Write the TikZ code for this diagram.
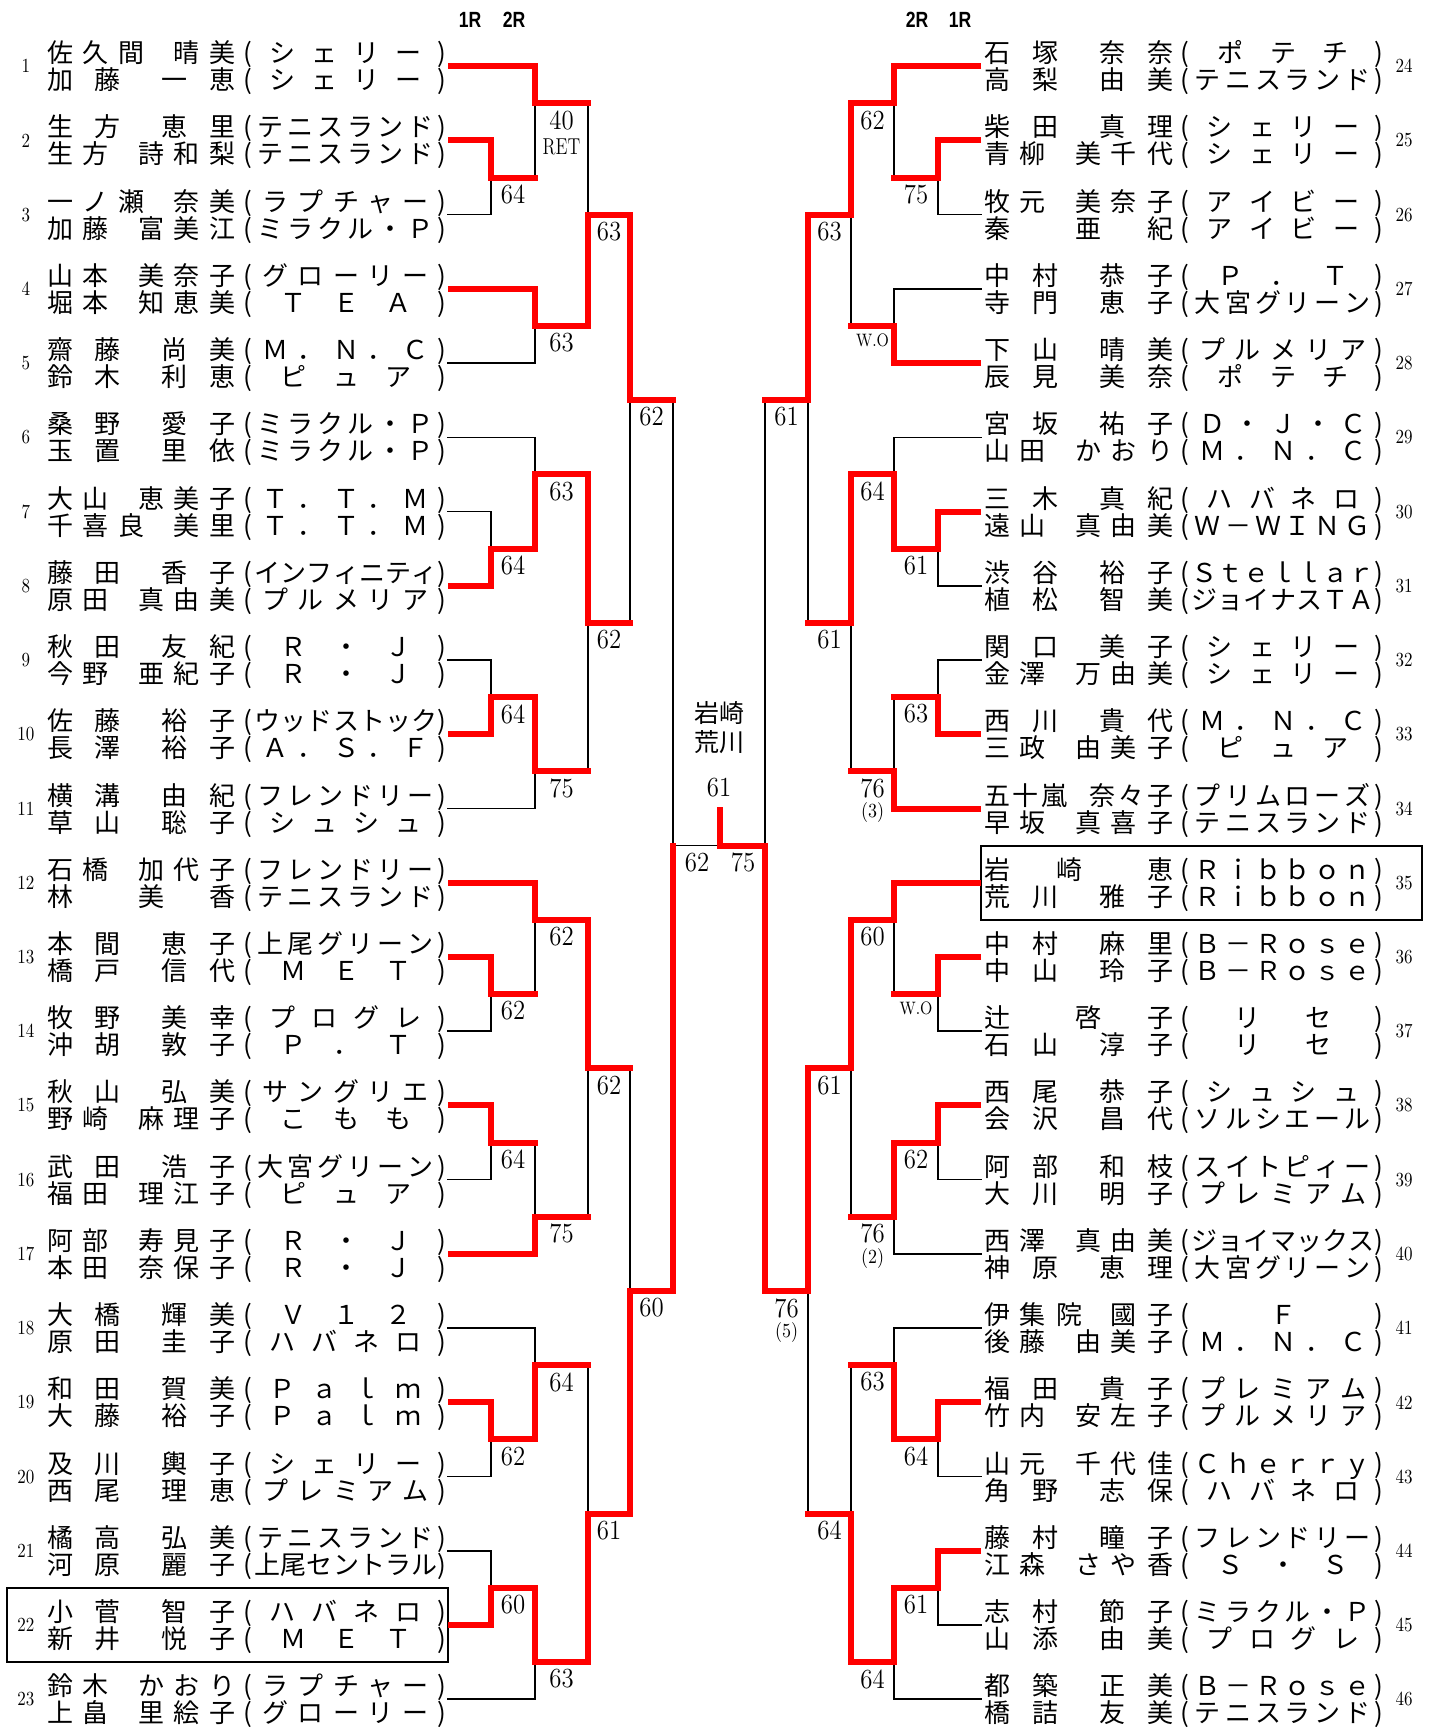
\documentclass[tikz,border=0pt]{standalone}
\usepackage{fontspec}
\usepackage{graphicx}
\newfontfamily\jp{Noto Sans CJK JP}
\newfontfamily\hd{Liberation Sans}
\pgfdeclarelayer{back}
\pgfdeclarelayer{bg}
\pgfsetlayers{back,bg,main}
\pgfmathdeclarefunction{rowy}{1}{\pgfmathparse{66.2+(#1-1)*74.23}}
\ExplSyntaxOn
\seq_new:N \l__sp_seq
\NewDocumentCommand\spreadx{m}{
  \seq_clear:N \l__sp_seq
  \tl_map_inline:nn {#1} { \seq_put_right:Nn \l__sp_seq {##1} }
  \seq_use:Nn \l__sp_seq { \hfil }
}
\ExplSyntaxOff
\newcommand\namebox[2]{\hbox to 94.5pt{\spreadx{#1}\hfil\hskip 9.5pt\spreadx{#2}}}
\newcommand\clubbox[1]{\hbox to 92pt{\hfil\spreadx{#1}\hfil}}
\newcommand\pline[3]{\jp\fontsize{13pt}{13pt}\selectfont\hbox{\namebox{#1}{#2}\hbox to 9pt{\hfil(\hskip 1pt}\clubbox{#3}\hbox to 4pt{\hss)\hss}}}
\newcommand\cnd[1]{\scalebox{0.9}[1]{#1}}
\newcommand\wo{\fontsize{9pt}{9pt}\selectfont\scalebox{0.95}[1]{W.O}}
\tikzset{
  win/.style={draw=red, line width=3pt, line cap=rect, line join=miter},
  wini/.style={draw=red, line width=3pt, line cap=butt},
  lose/.style={draw=black, line width=0.8pt, line cap=rect},
  ptext/.style={anchor=base west, inner sep=0pt, outer sep=0pt},
  pnum/.style={inner sep=0pt, font=\fontsize{10pt}{10pt}\selectfont},
  score/.style={anchor=north, inner sep=0pt, font=\fontsize{13.8pt}{14pt}\selectfont},
  sub/.style={anchor=north, inner sep=0pt, font=\fontsize{10pt}{10pt}\selectfont},
  frame/.style={draw=black, line width=1pt},
  rnd/.style={inner sep=0pt, font=\hd\bfseries\fontsize{11pt}{11pt}\selectfont},
  champ/.style={inner sep=0pt, font=\jp\fontsize{12.5pt}{12.5pt}\selectfont},
}
% pair texts
\newcommand\pairL[7]{%
  \node[pnum] (nL#1) at (26,{rowy(#1)}) {\scalebox{0.85}[1]{#1}};
  \node[ptext] (aL#1) at (47,{rowy(#1)-3.5}) {\pline{#2}{#3}{#4}};
  \node[ptext] (bL#1) at (47,{rowy(#1)+23.5}) {\pline{#5}{#6}{#7}};
}
\newcommand\pairR[8]{%
  \node[pnum] (nR#1) at (1404,{rowy(#1)}) {\scalebox{0.85}[1]{#2}};
  \node[ptext] (aR#1) at (984,{rowy(#1)-3.5}) {\pline{#3}{#4}{#5}};
  \node[ptext] (bR#1) at (984,{rowy(#1)+23.5}) {\pline{#6}{#7}{#8}};
}
% entry lines
\newcommand\entL[3]{%
  \coordinate (sL#1) at (448,{rowy(#1)});
  \coordinate (eL#1) at (#2,{rowy(#1)});
  \if#3w\draw[wini] (sL#1) -- (eL#1);\else\begin{pgfonlayer}{bg}\draw[lose] (sL#1) -- (eL#1);\end{pgfonlayer}\fi
}
\newcommand\entR[3]{%
  \coordinate (sR#1) at (981,{rowy(#1)});
  \coordinate (eR#1) at (#2,{rowy(#1)});
  \if#3w\draw[wini] (sR#1) -- (eR#1);\else\begin{pgfonlayer}{bg}\draw[lose] (sR#1) -- (eR#1);\end{pgfonlayer}\fi
}
% matches: name, X, Xnext, top row, bottom row, junction row, winner t/b, label
\newcommand\bmatch[8]{%
  \coordinate (#1) at (#2,{rowy(#6)});
  \coordinate (#1t) at (#2,{rowy(#4)});
  \coordinate (#1b) at (#2,{rowy(#5)});
  \coordinate (#1o) at (#3,{rowy(#6)});
  \if#7t
    \begin{pgfonlayer}{bg}\draw[lose] (#1b) -- (#1);\end{pgfonlayer}
    \draw[win] (#1t) -- (#1) -- (#1o);
  \else
    \begin{pgfonlayer}{bg}\draw[lose] (#1t) -- (#1);\end{pgfonlayer}
    \draw[win] (#1b) -- (#1) -- (#1o);
  \fi
  \node[score] (#1l) at ({(#2+#3)/2},{rowy(#6)+7}) {\cnd{#8}};
}
\begin{document}
\begin{tikzpicture}[x=0.5pt,y=-0.5pt]
\useasboundingbox (0,0) rectangle (1435,1730);
\begin{pgfonlayer}{back}
\fill[white] (0,0) rectangle (1435,1730);
\end{pgfonlayer}

% round headers
\node[rnd] (h1L) at (470,20) {\scalebox{0.8}[1]{1R}};
\node[rnd] (h2L) at (514,20) {\scalebox{0.8}[1]{2R}};
\node[rnd] (h2R) at (917,20) {\scalebox{0.8}[1]{2R}};
\node[rnd] (h1R) at (960,20) {\scalebox{0.8}[1]{1R}};

% left texts
\pairL{1}{佐久間}{晴美}{シェリー}{加藤}{一恵}{シェリー}
\pairL{2}{生方}{恵里}{テニスランド}{生方}{詩和梨}{テニスランド}
\pairL{3}{一ノ瀬}{奈美}{ラプチャー}{加藤}{富美江}{ミラクル・Ｐ}
\pairL{4}{山本}{美奈子}{グローリー}{堀本}{知恵美}{ＴＥＡ}
\pairL{5}{齋藤}{尚美}{Ｍ．Ｎ．Ｃ}{鈴木}{利恵}{ピュア}
\pairL{6}{桑野}{愛子}{ミラクル・Ｐ}{玉置}{里依}{ミラクル・Ｐ}
\pairL{7}{大山}{恵美子}{Ｔ．Ｔ．Ｍ}{千喜良}{美里}{Ｔ．Ｔ．Ｍ}
\pairL{8}{藤田}{香子}{インフィニティ}{原田}{真由美}{プルメリア}
\pairL{9}{秋田}{友紀}{Ｒ・Ｊ}{今野}{亜紀子}{Ｒ・Ｊ}
\pairL{10}{佐藤}{裕子}{ウッドストック}{長澤}{裕子}{Ａ．Ｓ．Ｆ}
\pairL{11}{横溝}{由紀}{フレンドリー}{草山}{聡子}{シュシュ}
\pairL{12}{石橋}{加代子}{フレンドリー}{林}{美香}{テニスランド}
\pairL{13}{本間}{恵子}{上尾グリーン}{橋戸}{信代}{ＭＥＴ}
\pairL{14}{牧野}{美幸}{プログレ}{沖胡}{敦子}{Ｐ．Ｔ}
\pairL{15}{秋山}{弘美}{サングリエ}{野崎}{麻理子}{こもも}
\pairL{16}{武田}{浩子}{大宮グリーン}{福田}{理江子}{ピュア}
\pairL{17}{阿部}{寿見子}{Ｒ・Ｊ}{本田}{奈保子}{Ｒ・Ｊ}
\pairL{18}{大橋}{輝美}{Ｖ１２}{原田}{圭子}{ハバネロ}
\pairL{19}{和田}{賀美}{Ｐａｌｍ}{大藤}{裕子}{Ｐａｌｍ}
\pairL{20}{及川}{輿子}{シェリー}{西尾}{理恵}{プレミアム}
\pairL{21}{橘高}{弘美}{テニスランド}{河原}{麗子}{上尾セントラル}
\pairL{22}{小菅}{智子}{ハバネロ}{新井}{悦子}{ＭＥＴ}
\pairL{23}{鈴木}{かおり}{ラプチャー}{上畠}{里絵子}{グローリー}

% right texts
\pairR{1}{24}{石塚}{奈奈}{ポテチ}{高梨}{由美}{テニスランド}
\pairR{2}{25}{柴田}{真理}{シェリー}{青柳}{美千代}{シェリー}
\pairR{3}{26}{牧元}{美奈子}{アイビー}{秦}{亜紀}{アイビー}
\pairR{4}{27}{中村}{恭子}{Ｐ．Ｔ}{寺門}{恵子}{大宮グリーン}
\pairR{5}{28}{下山}{晴美}{プルメリア}{辰見}{美奈}{ポテチ}
\pairR{6}{29}{宮坂}{祐子}{Ｄ・Ｊ・Ｃ}{山田}{かおり}{Ｍ．Ｎ．Ｃ}
\pairR{7}{30}{三木}{真紀}{ハバネロ}{遠山}{真由美}{Ｗ－ＷＩＮＧ}
\pairR{8}{31}{渋谷}{裕子}{Ｓｔｅｌｌａｒ}{植松}{智美}{ジョイナスＴＡ}
\pairR{9}{32}{関口}{美子}{シェリー}{金澤}{万由美}{シェリー}
\pairR{10}{33}{西川}{貴代}{Ｍ．Ｎ．Ｃ}{三政}{由美子}{ピュア}
\pairR{11}{34}{五十嵐}{奈々子}{プリムローズ}{早坂}{真喜子}{テニスランド}
\pairR{12}{35}{岩崎}{恵}{Ｒｉｂｂｏｎ}{荒川}{雅子}{Ｒｉｂｂｏｎ}
\pairR{13}{36}{中村}{麻里}{Ｂ－Ｒｏｓｅ}{中山}{玲子}{Ｂ－Ｒｏｓｅ}
\pairR{14}{37}{辻}{啓子}{リセ}{石山}{淳子}{リセ}
\pairR{15}{38}{西尾}{恭子}{シュシュ}{会沢}{昌代}{ソルシエール}
\pairR{16}{39}{阿部}{和枝}{スイトピィー}{大川}{明子}{プレミアム}
\pairR{17}{40}{西澤}{真由美}{ジョイマックス}{神原}{恵理}{大宮グリーン}
\pairR{18}{41}{伊集院}{國子}{Ｆ}{後藤}{由美子}{Ｍ．Ｎ．Ｃ}
\pairR{19}{42}{福田}{貴子}{プレミアム}{竹内}{安左子}{プルメリア}
\pairR{20}{43}{山元}{千代佳}{Ｃｈｅｒｒｙ}{角野}{志保}{ハバネロ}
\pairR{21}{44}{藤村}{瞳子}{フレンドリー}{江森}{さや香}{Ｓ・Ｓ}
\pairR{22}{45}{志村}{節子}{ミラクル・Ｐ}{山添}{由美}{プログレ}
\pairR{23}{46}{都築}{正美}{Ｂ－Ｒｏｓｅ}{橋詰}{友美}{テニスランド}

% frames
\coordinate (fA1) at (7,{rowy(22)-37});
\coordinate (fA2) at (448,{rowy(22)+37});
\draw[frame] (fA1) rectangle (fA2);
\coordinate (fB1) at (981,{rowy(12)-37});
\coordinate (fB2) at (1422,{rowy(12)+37});
\draw[frame] (fB1) rectangle (fB2);

% left entries
\entL{1}{535}{w}
\entL{2}{491}{w}
\entL{3}{491}{l}
\entL{4}{535}{w}
\entL{5}{535}{l}
\entL{6}{535}{l}
\entL{7}{491}{l}
\entL{8}{491}{w}
\entL{9}{491}{l}
\entL{10}{491}{w}
\entL{11}{535}{l}
\entL{12}{535}{w}
\entL{13}{491}{w}
\entL{14}{491}{l}
\entL{15}{491}{w}
\entL{16}{491}{l}
\entL{17}{535}{w}
\entL{18}{535}{l}
\entL{19}{491}{w}
\entL{20}{491}{l}
\entL{21}{491}{l}
\entL{22}{491}{w}
\entL{23}{535}{l}

% right entries
\entR{1}{894}{w}
\entR{2}{938}{w}
\entR{3}{938}{l}
\entR{4}{894}{l}
\entR{5}{894}{w}
\entR{6}{894}{l}
\entR{7}{938}{w}
\entR{8}{938}{l}
\entR{9}{938}{l}
\entR{10}{938}{w}
\entR{11}{894}{w}
\entR{12}{894}{w}
\entR{13}{938}{w}
\entR{14}{938}{l}
\entR{15}{938}{w}
\entR{16}{938}{l}
\entR{17}{894}{l}
\entR{18}{894}{l}
\entR{19}{938}{w}
\entR{20}{938}{l}
\entR{21}{938}{w}
\entR{22}{938}{l}
\entR{23}{894}{l}

% left matches
\bmatch{M1}{491}{535}{2}{3}{2.5}{t}{64}
\bmatch{M2}{535}{588}{1}{2.5}{1.5}{t}{40}
\node[sub, font=\fontsize{11.5pt}{12pt}\selectfont] (M2r) at (561.5,{rowy(1.5)+35}) {\scalebox{0.78}[1]{RET}};
\bmatch{M3}{535}{588}{4}{5}{4.5}{t}{63}
\bmatch{M4}{588}{630}{1.5}{4.5}{3}{b}{63}
\bmatch{M5}{491}{535}{7}{8}{7.5}{b}{64}
\bmatch{M6}{535}{588}{6}{7.5}{6.5}{b}{63}
\bmatch{M7}{491}{535}{9}{10}{9.5}{b}{64}
\bmatch{M8}{535}{588}{9.5}{11}{10.5}{t}{75}
\bmatch{M9}{588}{630}{6.5}{10.5}{8.5}{t}{62}
\bmatch{M10}{630}{673}{3}{8.5}{5.5}{t}{62}
\bmatch{M11}{491}{535}{13}{14}{13.5}{t}{62}
\bmatch{M12}{535}{588}{12}{13.5}{12.5}{t}{62}
\bmatch{M13}{491}{535}{15}{16}{15.5}{t}{64}
\bmatch{M14}{535}{588}{15.5}{17}{16.5}{b}{75}
\bmatch{M15}{588}{630}{12.5}{16.5}{14.5}{t}{62}
\bmatch{M16}{491}{535}{19}{20}{19.5}{t}{62}
\bmatch{M17}{535}{588}{18}{19.5}{18.5}{b}{64}
\bmatch{M18}{491}{535}{21}{22}{21.5}{b}{60}
\bmatch{M19}{535}{588}{21.5}{23}{22.5}{t}{63}
\bmatch{M20}{588}{630}{18.5}{22.5}{20.5}{b}{61}
\bmatch{M21}{630}{673}{14.5}{20.5}{17.5}{b}{60}

% right matches
\bmatch{N1}{938}{894}{2}{3}{2.5}{t}{75}
\bmatch{N2}{894}{851}{1}{2.5}{1.5}{t}{62}
\bmatch{N3}{894}{851}{4}{5}{4.5}{b}{\wo}
\bmatch{N4}{851}{808}{1.5}{4.5}{3}{t}{63}
\bmatch{N5}{938}{894}{7}{8}{7.5}{t}{61}
\bmatch{N6}{894}{851}{6}{7.5}{6.5}{b}{64}
\bmatch{N7}{938}{894}{9}{10}{9.5}{b}{63}
\bmatch{N8}{894}{851}{9.5}{11}{10.5}{b}{76}
\node[sub] (N8s) at (872.5,{rowy(10.5)+31}) {\cnd{(3)}};
\bmatch{N9}{851}{808}{6.5}{10.5}{8.5}{t}{61}
\bmatch{N10}{808}{765}{3}{8.5}{5.5}{t}{61}
\bmatch{N11}{938}{894}{13}{14}{13.5}{t}{\wo}
\bmatch{N12}{894}{851}{12}{13.5}{12.5}{t}{60}
\bmatch{N13}{938}{894}{15}{16}{15.5}{t}{62}
\bmatch{N14}{894}{851}{15.5}{17}{16.5}{t}{76}
\node[sub] (N14s) at (872.5,{rowy(16.5)+31}) {\cnd{(2)}};
\bmatch{N15}{851}{808}{12.5}{16.5}{14.5}{t}{61}
\bmatch{N16}{938}{894}{19}{20}{19.5}{t}{64}
\bmatch{N17}{894}{851}{18}{19.5}{18.5}{b}{63}
\bmatch{N18}{938}{894}{21}{22}{21.5}{t}{61}
\bmatch{N19}{894}{851}{21.5}{23}{22.5}{t}{64}
\bmatch{N20}{851}{808}{18.5}{22.5}{20.5}{b}{64}
\bmatch{N21}{808}{765}{14.5}{20.5}{17.5}{t}{76}
\node[sub] (N21s) at (786.5,{rowy(17.5)+31}) {\cnd{(5)}};

% semifinals and final
\coordinate (M22) at (673,{rowy(11.5)});
\coordinate (M22t) at (673,{rowy(5.5)});
\coordinate (M22b) at (673,{rowy(17.5)});
\coordinate (N22) at (765,{rowy(11.5)});
\coordinate (N22t) at (765,{rowy(5.5)});
\coordinate (N22b) at (765,{rowy(17.5)});
\coordinate (F) at (720,{rowy(11.5)});
\coordinate (Ftop) at (720,810);
\begin{pgfonlayer}{bg}
\draw[lose] (M22t) -- (M22) -- (F);
\draw[lose] (N22t) -- (N22);
\end{pgfonlayer}
\draw[win] (M22b) -- (M22);
\draw[win] (N22b) -- (N22) -- (F) -- (Ftop);
\node[score] (SL) at (697,{rowy(11.5)+7}) {\cnd{62}};
\node[score] (SR) at (743,{rowy(11.5)+7}) {\cnd{75}};
\node[champ] (C1) at (719,713) {岩崎};
\node[champ] (C2) at (719,742) {荒川};
\node[score, anchor=center] (C3) at (719,788) {\cnd{61}};
\end{tikzpicture}
\end{document}
